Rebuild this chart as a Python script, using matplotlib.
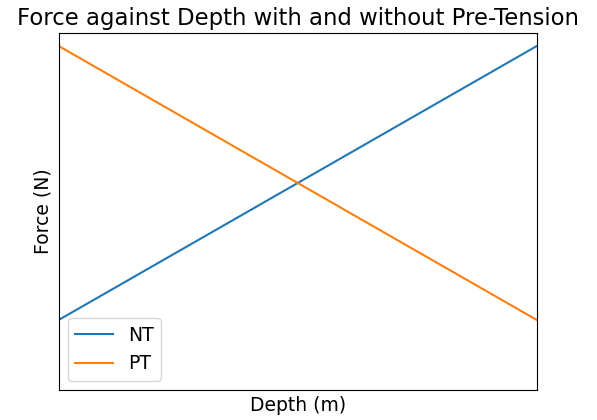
import matplotlib
matplotlib.use("Agg")
import matplotlib.pyplot as plt

depth = [0.0, 1.0]
force_nt = [0.0, 1.0]
force_pt = [1.0, 0.0]

fig = plt.figure(figsize=(5.97, 4.2), dpi=100)
ax = fig.add_axes([58.5 / 597, 30 / 420, (537 - 58.5) / 597, (390 - 33) / 420])
ax.plot(depth, force_nt, label='NT')
ax.plot(depth, force_pt, label='PT')
ax.set_xlim(0, 1)
ax.set_ylim(-0.255, 1.047)
ax.set_xticks([])
ax.set_yticks([])
ax.set_xlabel('Depth (m)', fontsize=13.5, labelpad=4)
ax.set_ylabel('Force (N)', fontsize=13.5, labelpad=4)
ax.set_title('Force against Depth with and without Pre-Tension', fontsize=16.4, pad=6)
ax.legend(loc='lower left', fontsize=13.5)
fig.savefig('out.png', dpi=100)
